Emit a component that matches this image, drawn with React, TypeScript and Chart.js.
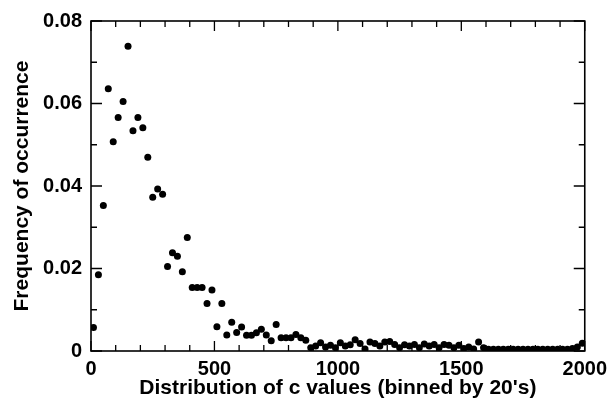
import React, { useEffect, useRef } from "react";
import { Chart, registerables } from "chart.js";

Chart.register(...registerables);

// bin centres (binned by 20's)
const binCenters: number[] = Array.from({ length: 100 }, (_, k) => 10 + 20 * k);

const frequency: number[] = [
  0.0057, 0.0185, 0.0353, 0.0636, 0.0507, 0.0566, 0.0605, 0.0739, 0.0534, 0.0566,
  0.0541, 0.047, 0.0373, 0.0393, 0.038, 0.0205, 0.0238, 0.023, 0.0192, 0.0275,
  0.0154, 0.0154, 0.0154, 0.0115, 0.0148, 0.0059, 0.0115, 0.0039, 0.007, 0.0045,
  0.0058, 0.0038, 0.0038, 0.0044, 0.0053, 0.0039, 0.0025, 0.0064, 0.0032, 0.0032,
  0.0032, 0.004, 0.0032, 0.0026, 0.0008, 0.0012, 0.002, 0.001, 0.0014, 0.0008,
  0.002, 0.0012, 0.0015, 0.0027, 0.0018, 0.0005, 0.0022, 0.0018, 0.0012, 0.0022,
  0.0023, 0.0016, 0.0008, 0.0015, 0.0012, 0.0016, 0.0008, 0.0017, 0.0012, 0.0016,
  0.0008, 0.0016, 0.0014, 0.0008, 0.0014, 0.0006, 0.001, 0.0005, 0.0022, 0.0008,
  0.0004, 0.0004, 0.0004, 0.0004, 0.0004, 0.0004, 0.0004, 0.0004, 0.0004, 0.0004,
  0.0004, 0.0004, 0.0004, 0.0004, 0.0004, 0.0004, 0.0004, 0.0006, 0.001, 0.0019,
];

const xTicks: number[] = [0, 500, 1000, 1500, 2000];
const yTicks: number[] = [0, 0.02, 0.04, 0.06, 0.08];
const xMinorStep = 100;
const yMinorStep = 0.01;

const xTitle = "Distribution of c values (binned by 20's)";
const yTitle = "Frequency of occurrence";

const FONT = "'Liberation Sans', Arial, Helvetica, sans-serif";

const framePlugin = {
  id: "frameTicks",
  beforeDatasetsDraw(chart: any) {
    const { ctx, chartArea } = chart;
    const { left, right, top, bottom } = chartArea;
    const xs = chart.scales.x;
    const ys = chart.scales.y;
    ctx.save();
    ctx.strokeStyle = "#000";
    ctx.lineWidth = 1.6;
    ctx.strokeRect(left, top, right - left, bottom - top);
    ctx.lineWidth = 1.3;
    ctx.beginPath();
    for (let v = 0; v <= 2000 + 1e-9; v += xMinorStep) {
      const major = xTicks.some((t) => Math.abs(t - v) < 1e-6);
      const len = major ? 10 : 6;
      const px = xs.getPixelForValue(v);
      ctx.moveTo(px, bottom);
      ctx.lineTo(px, bottom - len);
      ctx.moveTo(px, top);
      ctx.lineTo(px, top + len);
    }
    for (let i = 0; i <= 8; i++) {
      const v = i * yMinorStep;
      const major = i % 2 === 0;
      const len = major ? 11 : 6;
      const py = ys.getPixelForValue(v);
      ctx.moveTo(left, py);
      ctx.lineTo(left + len, py);
      ctx.moveTo(right, py);
      ctx.lineTo(right - len, py);
    }
    ctx.stroke();
    ctx.restore();
  },
};

export default function App() {
  const ref = useRef<HTMLCanvasElement | null>(null);

  useEffect(() => {
    document.body.style.margin = "0";
    const canvas = ref.current;
    if (!canvas) return;
    const points = binCenters.map((x, i) => ({ x, y: frequency[i] }));
    const chart = new Chart(canvas, {
      type: "scatter",
      data: {
        datasets: [
          {
            data: points,
            backgroundColor: "#000",
            borderColor: "#000",
            pointRadius: 3.5,
            pointBorderWidth: 0,
            pointHoverRadius: 3.5,
          },
        ],
      },
      plugins: [framePlugin],
      options: {
        animation: false,
        responsive: false,
        devicePixelRatio: 1,
        layout: { padding: { top: 19, right: 26, left: 0, bottom: 0 } },
        plugins: { legend: { display: false }, tooltip: { enabled: false } },
        scales: {
          x: {
            type: "linear",
            min: 0,
            max: 2000,
            afterFit: (s: any) => {
              s.height = 58;
            },
            afterBuildTicks: (s: any) => {
              s.ticks = xTicks.map((v) => ({ value: v }));
            },
            grid: { display: false, drawTicks: false },
            border: { display: false },
            ticks: {
              autoSkip: false,
              maxRotation: 0,
              padding: 6,
              color: "#000",
              font: { family: FONT, size: 20, weight: "bold" },
              callback: (v: any) => String(v),
            },
            title: {
              display: true,
              text: xTitle,
              color: "#000",
              font: { family: FONT, size: 21, weight: "bold" },
              padding: { top: 0, bottom: 8 },
            },
          },
          y: {
            type: "linear",
            min: 0,
            max: 0.08,
            afterFit: (s: any) => {
              s.width = 91;
            },
            afterBuildTicks: (s: any) => {
              s.ticks = yTicks.map((v) => ({ value: v }));
            },
            grid: { display: false, drawTicks: false },
            border: { display: false },
            ticks: {
              autoSkip: false,
              padding: 9,
              color: "#000",
              font: { family: FONT, size: 20, weight: "bold" },
              callback: (v: any) => (Number(v) === 0 ? "0" : Number(v).toFixed(2)),
            },
            title: {
              display: true,
              text: yTitle,
              color: "#000",
              font: { family: FONT, size: 21, weight: "bold" },
              padding: { top: 10, bottom: 0 },
            },
          },
        },
      },
    });
    return () => chart.destroy();
  }, []);

  return (
    <div style={{ width: 613, height: 409, background: "#fff" }}>
      <canvas ref={ref} width={613} height={409} style={{ display: "block" }} />
    </div>
  );
}
